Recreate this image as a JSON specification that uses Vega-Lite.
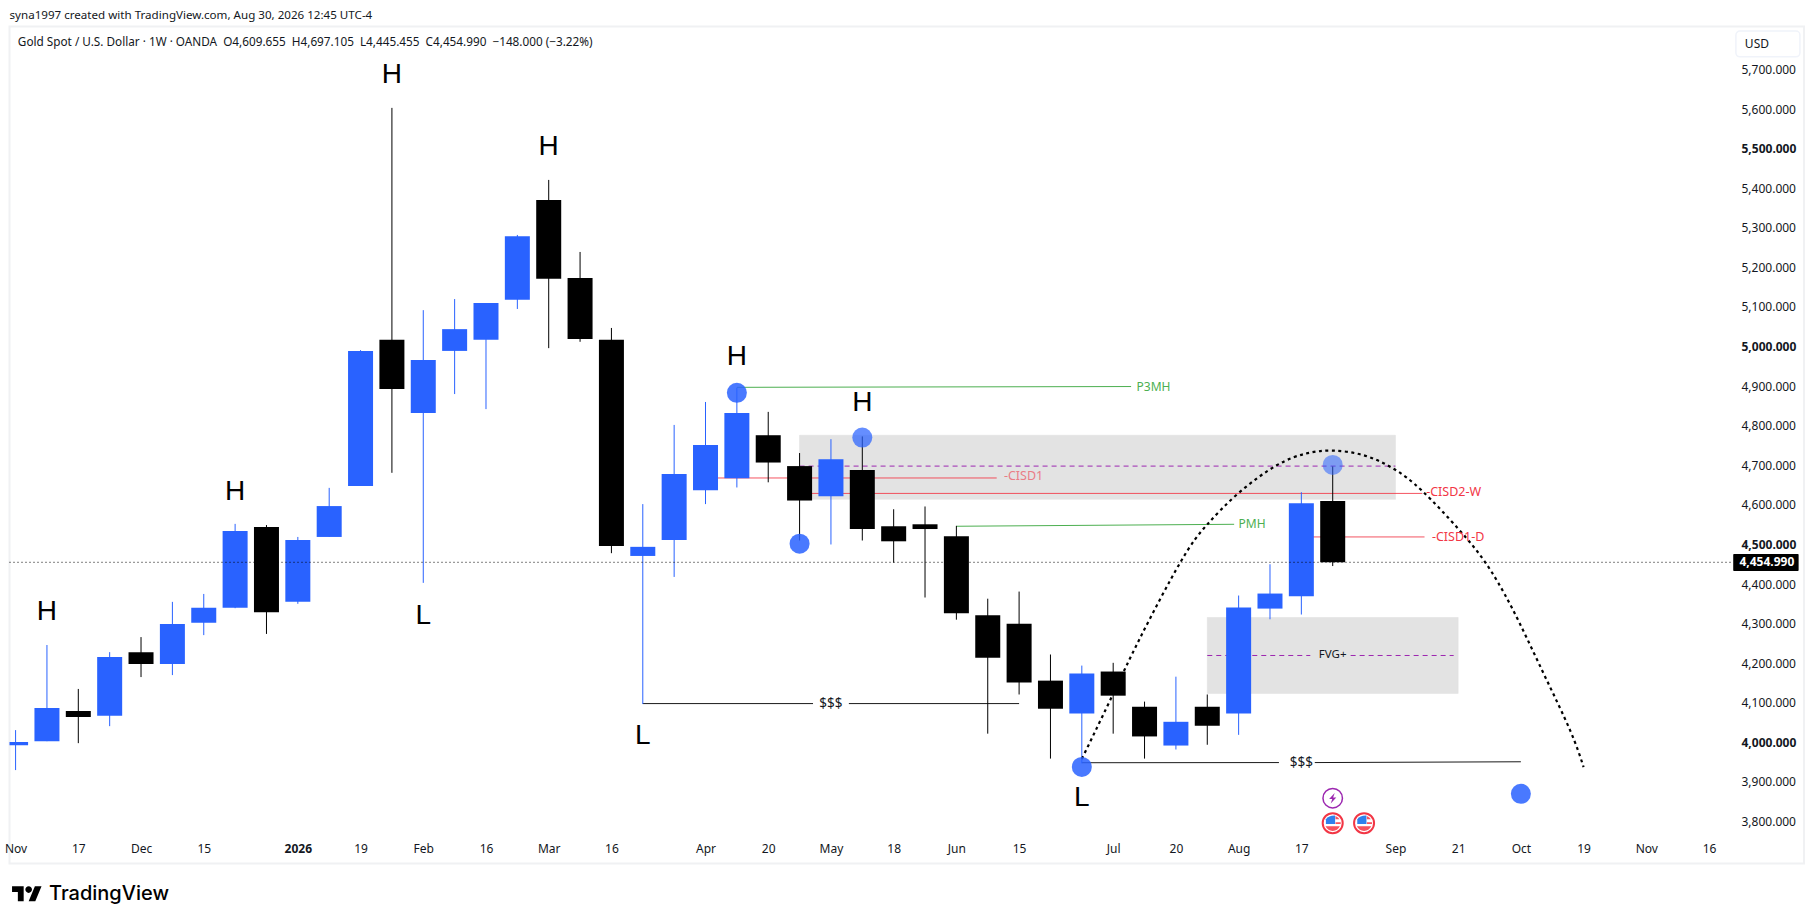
{
"$schema":"https://vega.github.io/schema/vega-lite/v6.json",
"autosize":"none",
"padding":{"left":9.5,"top":26.5,"right":10,"bottom":60.5},
"width":1794.5,
"height":837,
"background":"#ffffff",
"view":{"stroke":"#f0f1f3","strokeWidth":2},
"config":{"text":{"font":"Noto Sans"},"axis":{"labelFont":"Noto Sans"}},
"title":{"text":"syna1997 created with TradingView.com, Aug 30, 2026 12:45 UTC-4","anchor":"start","frame":"group","font":"Noto Sans","fontSize":11.6,"fontWeight":"normal","color":"#131722","offset":5},
"datasets":{
"candles":[
{"d":"2025-11-03","open":3993,"high":4031,"low":3930,"close":4001,"dir":"up"},
{"d":"2025-11-10","open":4003,"high":4246,"low":4003,"close":4087,"dir":"up"},
{"d":"2025-11-17","open":4079,"high":4135,"low":3998,"close":4064,"dir":"down"},
{"d":"2025-11-24","open":4067,"high":4228,"low":4041,"close":4216,"dir":"up"},
{"d":"2025-12-01","open":4228,"high":4266,"low":4165,"close":4198,"dir":"down"},
{"d":"2025-12-08","open":4198,"high":4355,"low":4170,"close":4299,"dir":"up"},
{"d":"2025-12-15","open":4302,"high":4375,"low":4271,"close":4340,"dir":"up"},
{"d":"2025-12-22","open":4340,"high":4552,"low":4339,"close":4534,"dir":"up"},
{"d":"2025-12-29","open":4544,"high":4549,"low":4274,"close":4329,"dir":"down"},
{"d":"2026-01-05","open":4355,"high":4519,"low":4350,"close":4511,"dir":"up"},
{"d":"2026-01-12","open":4519,"high":4643,"low":4519,"close":4597,"dir":"up"},
{"d":"2026-01-19","open":4648,"high":4991,"low":4648,"close":4989,"dir":"up"},
{"d":"2026-01-26","open":5017,"high":5603,"low":4681,"close":4893,"dir":"down"},
{"d":"2026-02-02","open":4832,"high":5092,"low":4403,"close":4966,"dir":"up"},
{"d":"2026-02-09","open":4989,"high":5120,"low":4880,"close":5044,"dir":"up"},
{"d":"2026-02-16","open":5017,"high":5110,"low":4842,"close":5110,"dir":"up"},
{"d":"2026-02-23","open":5118,"high":5282,"low":5095,"close":5279,"dir":"up"},
{"d":"2026-03-02","open":5370,"high":5421,"low":4996,"close":5171,"dir":"down"},
{"d":"2026-03-09","open":5173,"high":5239,"low":5012,"close":5019,"dir":"down"},
{"d":"2026-03-16","open":5017,"high":5047,"low":4478,"close":4496,"dir":"down"},
{"d":"2026-03-23","open":4471,"high":4602,"low":4097,"close":4494,"dir":"up"},
{"d":"2026-03-30","open":4511,"high":4802,"low":4418,"close":4678,"dir":"up"},
{"d":"2026-04-06","open":4637,"high":4860,"low":4602,"close":4751,"dir":"up"},
{"d":"2026-04-13","open":4667,"high":4896,"low":4644,"close":4832,"dir":"up"},
{"d":"2026-04-20","open":4776,"high":4835,"low":4657,"close":4707,"dir":"down"},
{"d":"2026-04-27","open":4698,"high":4731,"low":4510,"close":4611,"dir":"down"},
{"d":"2026-05-04","open":4622,"high":4766,"low":4500,"close":4715,"dir":"up"},
{"d":"2026-05-11","open":4688,"high":4773,"low":4510,"close":4539,"dir":"down"},
{"d":"2026-05-18","open":4546,"high":4589,"low":4454,"close":4508,"dir":"down"},
{"d":"2026-05-25","open":4551,"high":4596,"low":4366,"close":4539,"dir":"down"},
{"d":"2026-06-01","open":4521,"high":4547,"low":4310,"close":4326,"dir":"down"},
{"d":"2026-06-08","open":4321,"high":4363,"low":4022,"close":4214,"dir":"down"},
{"d":"2026-06-15","open":4300,"high":4381,"low":4121,"close":4151,"dir":"down"},
{"d":"2026-06-22","open":4156,"high":4222,"low":3959,"close":4085,"dir":"down"},
{"d":"2026-06-29","open":4073,"high":4194,"low":3947,"close":4174,"dir":"up"},
{"d":"2026-07-06","open":4179,"high":4201,"low":4022,"close":4118,"dir":"down"},
{"d":"2026-07-13","open":4090,"high":4103,"low":3959,"close":4015,"dir":"down"},
{"d":"2026-07-20","open":3992,"high":4166,"low":3982,"close":4052,"dir":"up"},
{"d":"2026-07-27","open":4090,"high":4121,"low":3994,"close":4042,"dir":"down"},
{"d":"2026-08-03","open":4073,"high":4371,"low":4019,"close":4341,"dir":"up"},
{"d":"2026-08-10","open":4338,"high":4450,"low":4311,"close":4376,"dir":"up"},
{"d":"2026-08-17","open":4369,"high":4632,"low":4323,"close":4604,"dir":"up"},
{"d":"2026-08-24","open":4609.655,"high":4697.105,"low":4445.455,"close":4454.99,"dir":"down"}
],
"zones":[
{"d":"2026-04-27","d2":"2026-09-07","p":4776,"p2":4614},
{"d":"2026-07-27","d2":"2026-09-21","p":4315.5,"p2":4123.7}
],
"purple":[
{"d":"2026-04-27","d2":"2026-09-07","p":4698,"p2":4698},
{"d":"2026-07-27","d2":"2026-08-19","p":4219.5,"p2":4219.5},
{"d":"2026-08-28","d2":"2026-09-20","p":4219.5,"p2":4219.5}
],
"red":[
{"d":"2026-04-06","d2":"2026-06-10","p":4668,"p2":4668},
{"d":"2026-04-27","d2":"2026-09-13","p":4629,"p2":4629},
{"d":"2026-08-17","d2":"2026-09-13T12:00:00Z","p":4519,"p2":4519}
],
"green":[
{"d":"2026-04-13","d2":"2026-07-10","p":4897,"p2":4899},
{"d":"2026-06-01","d2":"2026-08-02","p":4546,"p2":4551}
],
"black":[
{"d":"2026-03-23","d2":"2026-04-30","p":4098,"p2":4098},
{"d":"2026-05-08","d2":"2026-06-15","p":4098,"p2":4098},
{"d":"2026-06-29","d2":"2026-08-12","p":3948.6,"p2":3949},
{"d":"2026-08-20","d2":"2026-10-05","p":3949,"p2":3951}
],
"arc":[
{"d":"2026-06-29","p":3958},{"d":"2026-07-06","p":4122.7},{"d":"2026-07-12","p":4263.7},
{"d":"2026-07-21","p":4455},{"d":"2026-07-27","p":4550.7},{"d":"2026-08-03","p":4630},
{"d":"2026-08-11T12:00:00Z","p":4700},{"d":"2026-08-18","p":4729.6},{"d":"2026-08-24","p":4737.2},
{"d":"2026-08-31","p":4725},{"d":"2026-09-06T12:00:00Z","p":4692},{"d":"2026-09-13","p":4635.1},{"d":"2026-09-21","p":4539.8},
{"d":"2026-09-27","p":4455.7},{"d":"2026-10-03","p":4340},{"d":"2026-10-10","p":4175.8},{"d":"2026-10-16","p":4030.2},{"d":"2026-10-19","p":3937.5}
],
"dots":[
{"d":"2026-04-13","p":4883},{"d":"2026-04-27","p":4502},
{"d":"2026-06-29","p":3938},{"d":"2026-10-05","p":3870}
],
"dotsSoft":[{"d":"2026-05-11","p":4770}],
"dotsFaint":[{"d":"2026-08-24","p":4701}],
"swings":[
{"d":"2026-01-26","p":5686,"t":"H"},{"d":"2026-03-02","p":5505,"t":"H"},{"d":"2025-12-22","p":4632,"t":"H"},
{"d":"2025-11-10","p":4330,"t":"H"},{"d":"2026-02-02","p":4319,"t":"L"},{"d":"2026-03-23","p":4016,"t":"L"},
{"d":"2026-04-13","p":4974,"t":"H"},{"d":"2026-05-11","p":4857,"t":"H"},{"d":"2026-06-29","p":3859,"t":"L"}
],
"greenText":[{"d":"2026-07-15","p":4899,"t":"P3MH"},{"d":"2026-08-06","p":4552,"t":"PMH"}],
"redText":[{"d":"2026-09-20","p":4632,"t":"-CISD2-W"},{"d":"2026-09-21","p":4520,"t":"-CISD1-D"}],
"paleText":[{"d":"2026-06-16","p":4674,"t":"-CISD1"}],
"dollarText":[{"d":"2026-05-04","p":4098,"t":"$$$"},{"d":"2026-08-17","p":3948,"t":"$$$"}],
"fvgText":[{"d":"2026-08-24","p":4219.5,"t":"FVG+"}],
"flags":[{"d":"2026-08-24","p":3796},{"d":"2026-08-31","p":3796}],
"bolt":[{"d":"2026-08-24","p":3859}]
},
"encoding":{
"x":{"field":"d","type":"temporal","title":null,
"scale":{"type":"utc","nice":false,"padding":0,"domain":[{"year":2025,"month":11,"date":1,"hours":15,"minutes":22,"utc":true},{"year":2026,"month":12,"date":7,"hours":4,"minutes":48,"utc":true}]},
"axis":{"orient":"bottom","offset":-23,"domain":false,"ticks":false,"grid":false,"labelPadding":3,"labelFontSize":12,"labelColor":"#131722","labelOverlap":false,"labelBound":false,"labelFlush":false,"labelAngle":0,
"labelFontWeight":{"condition":{"test":"utcmonth(datum.value)==0 && utcdate(datum.value)<=7","value":"bold"},"value":"normal"},
"labelExpr":"utcdate(datum.value)<=7 ? (utcmonth(datum.value)==0 ? utcFormat(datum.value,'%Y') : utcFormat(datum.value,'%b')) : utcFormat(datum.value,'%-d')",
"values":[{"year":2025,"month":11,"date":3,"utc":true},{"year":2025,"month":11,"date":17,"utc":true},{"year":2025,"month":12,"date":1,"utc":true},{"year":2025,"month":12,"date":15,"utc":true},{"year":2026,"month":1,"date":5,"utc":true},{"year":2026,"month":1,"date":19,"utc":true},{"year":2026,"month":2,"date":2,"utc":true},{"year":2026,"month":2,"date":16,"utc":true},{"year":2026,"month":3,"date":2,"utc":true},{"year":2026,"month":3,"date":16,"utc":true},{"year":2026,"month":4,"date":6,"utc":true},{"year":2026,"month":4,"date":20,"utc":true},{"year":2026,"month":5,"date":4,"utc":true},{"year":2026,"month":5,"date":18,"utc":true},{"year":2026,"month":6,"date":1,"utc":true},{"year":2026,"month":6,"date":15,"utc":true},{"year":2026,"month":7,"date":6,"utc":true},{"year":2026,"month":7,"date":20,"utc":true},{"year":2026,"month":8,"date":3,"utc":true},{"year":2026,"month":8,"date":17,"utc":true},{"year":2026,"month":9,"date":7,"utc":true},{"year":2026,"month":9,"date":21,"utc":true},{"year":2026,"month":10,"date":5,"utc":true},{"year":2026,"month":10,"date":19,"utc":true},{"year":2026,"month":11,"date":2,"utc":true},{"year":2026,"month":11,"date":16,"utc":true}]}},
"y":{"field":"p","type":"quantitative","title":null,
"scale":{"domain":[3694,5808.6],"zero":false,"nice":false},
"axis":{"orient":"right","offset":-71,"domain":false,"ticks":false,"grid":false,"labelPadding":8,"labelFontSize":12,"labelColor":"#131722","format":",.3f","labelOverlap":false,"labelBound":false,"labelFlush":false,
"labelFontWeight":{"condition":{"test":"datum.value%500==0","value":"bold"},"value":"normal"},
"values":[3800,3900,4000,4100,4200,4300,4400,4500,4600,4700,4800,4900,5000,5100,5200,5300,5400,5500,5600,5700]}}
},
"layer":[
{"data":{"name":"zones"},"mark":{"type":"rect","fill":"#e3e3e3","stroke":"#dedede","strokeWidth":0.5},"encoding":{"x2":{"field":"d2"},"y2":{"field":"p2"}}},
{"data":{"name":"purple"},"mark":{"type":"rule","color":"#9c27b0","strokeWidth":1,"strokeDash":[5,4]},"encoding":{"x2":{"field":"d2"},"y2":{"field":"p2"}}},
{"data":{"name":"red"},"mark":{"type":"rule","color":"#f23645","strokeWidth":1,"opacity":0.85},"encoding":{"x2":{"field":"d2"},"y2":{"field":"p2"}}},
{"data":{"name":"green"},"mark":{"type":"rule","color":"#4caf50","strokeWidth":1},"encoding":{"x2":{"field":"d2"},"y2":{"field":"p2"}}},
{"data":{"name":"black"},"mark":{"type":"rule","color":"#1a1a1a","strokeWidth":1},"encoding":{"x2":{"field":"d2"},"y2":{"field":"p2"}}},
{"data":{"name":"candles"},"mark":{"type":"rule","strokeWidth":1,"clip":true},"encoding":{"y":{"field":"low","type":"quantitative"},"y2":{"field":"high"},"color":{"field":"dir","type":"nominal","legend":null,"scale":{"domain":["up","down"],"range":["#2962ff","#000000"]}}}},
{"data":{"name":"candles"},"mark":{"type":"bar","size":25,"clip":true},"encoding":{"y":{"field":"open","type":"quantitative"},"y2":{"field":"close"},"color":{"field":"dir","type":"nominal","legend":null}}},
{"data":{"values":[{"d":"2025-11-01T15:22:00Z","d2":"2026-11-21T09:36:00Z","p":4454.99}]},"mark":{"type":"rule","color":"#000000","strokeWidth":1,"strokeDash":[1,3]},"encoding":{"x2":{"field":"d2"}}},
{"data":{"name":"arc"},"mark":{"type":"line","color":"#000000","strokeWidth":2.2,"strokeDash":[3,3.5],"interpolate":"natural"}},
{"data":{"name":"dots"},"mark":{"type":"point","shape":"circle","filled":true,"size":400,"color":"#2962ff","opacity":0.85,"strokeWidth":0}},
{"data":{"name":"dotsSoft"},"mark":{"type":"point","shape":"circle","filled":true,"size":400,"color":"#2962ff","opacity":0.72,"strokeWidth":0}},
{"data":{"name":"dotsFaint"},"mark":{"type":"point","shape":"circle","filled":true,"size":400,"color":"#2962ff","opacity":0.55,"strokeWidth":0}},
{"data":{"name":"swings"},"mark":{"type":"text","fontSize":28,"font":"Liberation Sans","color":"#000000"},"encoding":{"text":{"field":"t"}}},
{"data":{"name":"greenText"},"mark":{"type":"text","fontSize":12,"color":"#4caf50"},"encoding":{"text":{"field":"t"}}},
{"data":{"name":"redText"},"mark":{"type":"text","fontSize":12.5,"color":"#f23645"},"encoding":{"text":{"field":"t"}}},
{"data":{"name":"paleText"},"mark":{"type":"text","fontSize":12.5,"color":"#ea7d86"},"encoding":{"text":{"field":"t"}}},
{"data":{"name":"dollarText"},"mark":{"type":"text","fontSize":13.5,"color":"#131722"},"encoding":{"text":{"field":"t"}}},
{"data":{"name":"fvgText"},"mark":{"type":"text","fontSize":11.5,"color":"#131722"},"encoding":{"text":{"field":"t"}}},
{"data":{"name":"bolt"},"mark":{"type":"point","shape":"circle","filled":true,"fill":"#ffffff","stroke":"#9c27b0","strokeWidth":1.5,"size":380,"opacity":1}},
{"data":{"name":"bolt"},"mark":{"type":"point","shape":"M.25,-.65L-.45,.1L-.05,.1L-.25,.65L.45,-.1L.05,-.1Z","filled":true,"color":"#9c27b0","size":256,"strokeWidth":0,"opacity":1}},
{"data":{"name":"flags"},"mark":{"type":"point","shape":"circle","filled":true,"fill":"#ffffff","stroke":"#f23645","strokeWidth":2,"size":400,"opacity":1}},
{"data":{"name":"flags"},"mark":{"type":"point","shape":"M-.85,.1L-.85,-.5Q-.5,-.95 .2,-.95L.3,-.95L.3,.1Z","filled":true,"color":"#2f80ed","size":256,"strokeWidth":0,"opacity":1}},
{"data":{"name":"flags"},"mark":{"type":"point","shape":"M.35,-.9Q.7,-.75 .85,-.5L.35,-.5ZM.35,-.12L1,-.12L1,.12L.35,.12ZM-.9,.4L.9,.4Q.6,.98 0,.98Q-.6,.98 -.9,.4Z","filled":true,"color":"#f7525f","size":256,"strokeWidth":0,"opacity":1}},
{"data":{"values":[{"d":"2026-11-21T09:36:00Z","d2":"2026-12-06T00:00:00Z","p":4475.9,"p2":4433}]},"mark":{"type":"rect","fill":"#000000","cornerRadius":1},"encoding":{"x2":{"field":"d2"},"y2":{"field":"p2"}}},
{"data":{"values":[{"d":"2026-11-28T22:00:00Z","p":4454.99,"t":"4,454.990"}]},"mark":{"type":"text","fontSize":12,"fontWeight":"bold","color":"#ffffff"},"encoding":{"text":{"field":"t"}}},
{"data":{"values":[{"d":"2026-11-22T00:00:00Z","d2":"2026-12-06T07:00:00Z","p":5797,"p2":5732}]},"mark":{"type":"rect","fill":"#ffffff","stroke":"#f0f3fa","strokeWidth":1.5,"cornerRadius":4},"encoding":{"x2":{"field":"d2"},"y2":{"field":"p2"}}},
{"data":{"values":[{"d":"2026-11-24T00:00:00Z","p":5764,"t":"USD"}]},"mark":{"type":"text","fontSize":12,"align":"left","color":"#131722"},"encoding":{"text":{"field":"t"}}},
{"data":{"values":[{"d":"2025-11-03T12:00:00Z","p":5770,"t":"Gold Spot / U.S. Dollar · 1W · OANDA\u00a0\u00a0O4,609.655\u00a0\u00a0H4,697.105\u00a0\u00a0L4,445.455\u00a0\u00a0C4,454.990\u00a0\u00a0−148.000 (−3.22%)"}]},"mark":{"type":"text","fontSize":11.75,"align":"left","color":"#131722"},"encoding":{"text":{"field":"t"}}},
{"data":{"values":[{"d":"2025-11-05T12:00:00Z","p":3617.6}]},"mark":{"type":"point","shape":"M-.211,.507L-.606,.507L-.606,-.113L-1,-.113L-1,-.507L-.211,-.507ZM.577,.507L.127,.507L.549,-.507L1,-.507ZM-.098,-.282a.225,.225 0 1,0 .45,0a.225,.225 0 1,0 -.45,0Z","filled":true,"color":"#000000","size":870,"strokeWidth":0,"opacity":1}},
{"data":{"values":[{"d":"2025-11-10T11:00:00Z","p":3617,"t":"TradingView"}]},"mark":{"type":"text","font":"Inter","fontSize":20,"fontWeight":500,"align":"left","color":"#000000"},"encoding":{"text":{"field":"t"}}}
]
}
